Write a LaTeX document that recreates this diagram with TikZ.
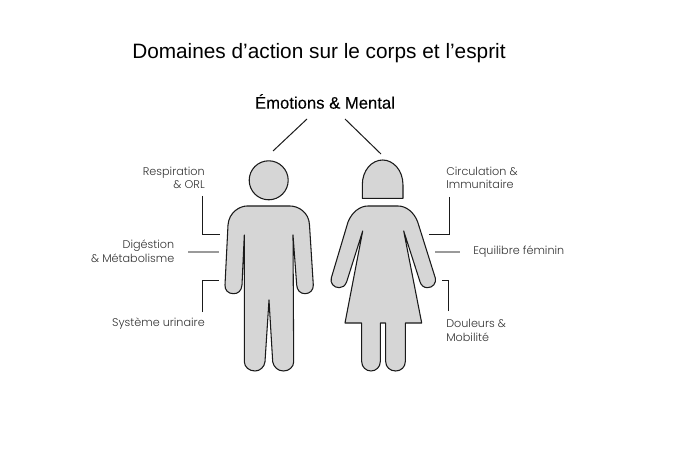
\documentclass[tikz,border=0pt]{standalone}
\usepackage{fontspec}
\setmainfont{Poppins Light}
\newfontfamily\titlef{Liberation Sans}
\newfontfamily\emof[FakeBold=0.2]{Liberation Sans}
\definecolor{bodyfill}{HTML}{D6D6D6}
\definecolor{ink}{HTML}{1A1A1A}
\definecolor{lab}{HTML}{333333}
\definecolor{midgray}{HTML}{9A9A9A}
\tikzset{
 figure/.style={draw=ink,line width=0.8pt,fill=bodyfill,line join=round},
 lab/.style={inner sep=0pt,text=lab,font=\fontsize{8.4}{10.2}\selectfont},
 conn/.style={draw=ink,line width=0.75pt},
 connsoft/.style={draw=midgray,line width=0.9pt},
}
\begin{document}
\begin{tikzpicture}[x=0.75pt,y=-0.75pt]
\useasboundingbox[fill=white] (0,0) rectangle (690,460);
\node[inner sep=0pt,anchor=west,font=\titlef\fontsize{15.6}{18}\selectfont,text=black] (title) at (132,53) {Domaines d’action sur le corps et l’esprit};
\node[inner sep=0pt,font=\emof\fontsize{12.5}{14}\selectfont,text=black] (emo) at (325,101.5) {Émotions \& Mental};
% man
\node[figure,circle,minimum size=29.25pt,inner sep=0pt] (mhead) at (268.7,180.3) {};
\draw[figure] (244.3,235) -- (242,285) .. controls (241.5,291) and (238,293.7) .. (233.5,293.7) .. controls (228,293.7) and (224.7,290) .. (225,285) -- (228,225) .. controls (229,212) and (240,206) .. (247,206) -- (290,206) .. controls (298,206) and (309,212) .. (309.5,225) -- (313.3,285) .. controls (313.5,290) and (310,293.7) .. (305,293.7) .. controls (300,293.7) and (297,290) .. (296.7,285) -- (293,235) -- (293.7,361.7) .. controls (293.7,367) and (289,371) .. (283.5,371) .. controls (278,371) and (273.5,367) .. (272.7,361.7) -- (269,300) -- (265,361.7) .. controls (264.5,367) and (260,371) .. (255,371) .. controls (249,371) and (244.5,367) .. (244.3,361.7) -- cycle;
% woman
\draw[figure] (362.3,198.3) -- (362.3,185) .. controls (362.3,170) and (372,160) .. (382.7,160) .. controls (393,160) and (403,170) .. (403,185) -- (403,198.3) -- cycle;
\draw[figure] (362.7,231) -- (346.7,281.7) .. controls (345,286) and (342.5,287.7) .. (339.3,287.7) .. controls (333.5,287.7) and (330,283) .. (331.3,278) -- (348,222) .. controls (352,212) and (360,206) .. (368,206) -- (398,206) .. controls (406,206) and (414,212) .. (417.7,222) -- (435.3,278) .. controls (436.5,283) and (433,287.7) .. (427.3,287.7) .. controls (423.5,287.7) and (421,285) .. (420,281.7) -- (403.7,231) -- (421.7,323) -- (405.3,323) -- (405.3,361.7) .. controls (405.3,367) and (401,371) .. (395.7,371) .. controls (390,371) and (385.7,367) .. (385.7,361.7) -- (385.7,323) -- (380.3,323) -- (380.3,361.7) .. controls (380.3,367) and (376,371) .. (371,371) .. controls (366,371) and (361.7,367) .. (361.7,361.7) -- (361.7,323) -- (345,323) -- cycle;
% labels
\node[lab,align=right,anchor=east] (resp) at (205,178) {Respiration\\\& ORL};
\node[lab,align=right,anchor=east] (dige) at (174.5,251.5) {Digéstion\\\& Métabolisme};
\node[lab,anchor=east] (syst) at (205,324) {Système urinaire};
\node[lab,align=left,anchor=west] (circ) at (446,178) {Circulation \&\\Immunitaire};
\node[lab,anchor=west] (equi) at (473,251.5) {Equilibre féminin};
\node[lab,align=left,anchor=west] (doul) at (446,330.5) {Douleurs \&\\Mobilité};
% connector ends
\coordinate (rA) at (202,196); \coordinate (rB) at (220,234.5);
\coordinate (dA) at (188,252); \coordinate (dB) at (219,252);
\coordinate (sA) at (202,312); \coordinate (sB) at (219,280);
\coordinate (cA) at (449.5,197); \coordinate (cB) at (429,234.5);
\coordinate (eA) at (435,252); \coordinate (eB) at (460,252);
\coordinate (oA) at (448.5,311); \coordinate (oB) at (442,280);
\coordinate (e1) at (307,119); \coordinate (e2) at (273,151);
\coordinate (e3) at (345,119); \coordinate (e4) at (381,154);
\draw[conn] (e1) -- (e2);
\draw[conn] (e3) -- (e4);
\draw[conn] (rA) |- (rB);
\draw[connsoft] (dA) -- (dB);
\draw[conn] (sA) |- (sB);
\draw[conn] (cA) |- (cB);
\draw[connsoft] (eA) -- (eB);
\draw[conn] (oA) |- (oB);
\end{tikzpicture}
\end{document}
